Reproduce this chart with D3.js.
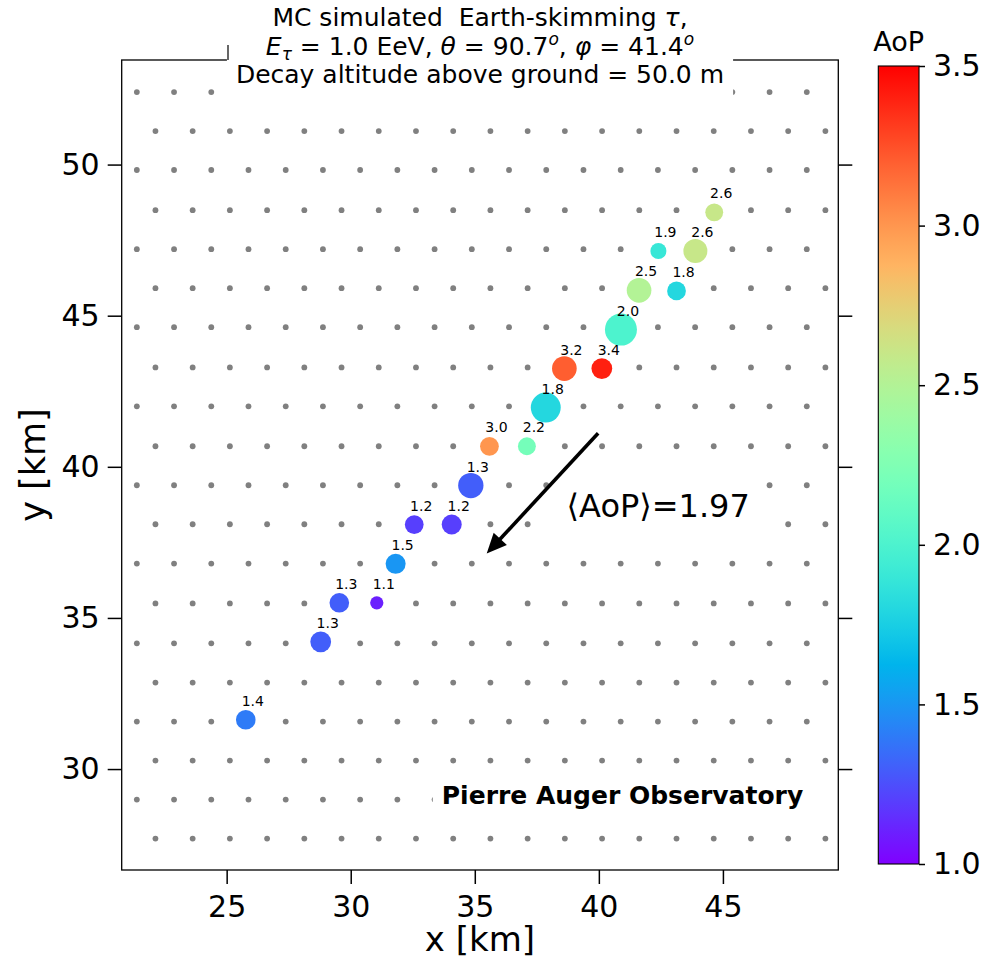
<!DOCTYPE html>
<html>
<head>
<meta charset="utf-8">
<script src="https://cdnjs.cloudflare.com/ajax/libs/d3/7.8.5/d3.min.js"></script>
<style>
  body { margin: 0; background: #fff; }
  svg { display: block; font-family: "DejaVu Sans", sans-serif; }
</style>
</head>
<body>
<div id="chart"></div>
<script>
// Surface detector grid (km), rows alternate between the two column sets
const rowY = [52.40, 51.11, 49.82, 48.49, 47.20, 45.91, 44.62, 43.29, 42.00, 40.68,
              39.39, 38.10, 36.80, 35.48, 34.16, 32.86, 31.57, 30.28, 28.99, 27.70];
const colEven = [21.38, 22.88, 24.38, 25.88, 27.38, 28.88, 30.38, 31.88, 33.38, 34.88,
                 36.38, 37.88, 39.38, 40.88, 42.38, 43.88, 45.38, 46.88, 48.38];
const colOdd = [22.13, 23.63, 25.13, 26.63, 28.13, 29.63, 31.13, 32.63, 34.13, 35.63,
                37.13, 38.63, 40.13, 41.63, 43.13, 44.63, 46.13, 47.63, 49.13];

// Triggered stations
const stX = [44.65, 42.40, 43.89, 41.62, 43.13, 40.89, 38.61, 40.12, 37.86, 35.59,
             37.10, 34.84, 32.56, 34.07, 31.81, 29.54, 31.05, 28.79, 25.77];
const stY = [48.42, 47.14, 47.14, 45.84, 45.82, 44.54, 43.25, 43.25, 41.96, 40.68,
             40.68, 39.38, 38.09, 38.09, 36.79, 35.50, 35.50, 34.21, 31.63];
const aop = [2.6, 1.9, 2.6, 2.5, 1.8, 2.0, 3.2, 3.4, 1.8, 3.0,
             2.2, 1.3, 1.2, 1.2, 1.5, 1.3, 1.1, 1.3, 1.4];
const signal = [20, 16, 36, 38, 22, 64, 38, 27, 56, 22,
                20, 40, 22, 25, 25, 24, 11, 27, 24];

// Ticks and annotations
const xTicks = [25, 30, 35, 40, 45];
const yTicks = [30, 35, 40, 45, 50];
const cbTicks = [1.0, 1.5, 2.0, 2.5, 3.0, 3.5];
const meanAoP = 1.97;
const arrowFrom = [39.97, 41.11];
const arrowTo = [35.48, 37.13];
const aopTextPos = [38.70, 38.34];
const auger = "Pierre Auger Observatory";
const augerPos = [33.67, 28.86];

// Plot parameters
const w = 988, h = 962;
const pL = 121.7, pR = 838.3, pT = 60, pB = 870;

// matplotlib "rainbow" colormap
function rainbow(t) {
	const c = v => Math.round(255 * Math.max(0, Math.min(1, v)));
	return d3.rgb(c(Math.abs(2 * t - 0.5)), c(Math.sin(Math.PI * t)), c(Math.cos(Math.PI * t / 2))).formatHex();
}

const xScale = d3.scaleLinear().domain([20.77, 49.65]).range([pL, pR]);
const yScale = d3.scaleLinear().domain([26.66, 53.46]).range([pB, pT]);
const tScale = d3.scaleLinear().domain([1.0, 3.5]).range([0, 1]).clamp(true);
const rScale = d3.scaleSqrt().domain([0, 64]).range([0, 16]);
const color = v => rainbow(tScale(v));

const svg = d3.select("#chart")
			  .append("svg")
			  .attr("width", w)
			  .attr("height", h);

svg.append("rect").attr("width", w).attr("height", h).attr("fill", "#fff");

const defs = svg.append("defs");
defs.append("clipPath")
	.attr("id", "plot-clip")
	.append("rect")
	.attr("x", pL).attr("y", pT)
	.attr("width", pR - pL).attr("height", pB - pT);

//Grid dots
const grid = [];
rowY.forEach((yv, i) => (i % 2 === 0 ? colEven : colOdd).forEach(xv => grid.push([xv, yv])));

const plot = svg.append("g").attr("clip-path", "url(#plot-clip)");

plot.selectAll("circle.tank")
	.data(grid)
	.enter()
	.append("circle")
	.attr("class", "tank")
	.attr("cx", d => xScale(d[0]))
	.attr("cy", d => yScale(d[1]))
	.attr("r", 2.9)
	.attr("fill", "#808080");

//Stations
const stations = stX.map((x, i) => ({x: x, y: stY[i], aop: aop[i], s: signal[i]}));

plot.selectAll("circle.station")
	.data(stations)
	.enter()
	.append("circle")
	.attr("class", "station")
	.attr("cx", d => xScale(d.x))
	.attr("cy", d => yScale(d.y))
	.attr("r", d => rScale(d.s))
	.attr("fill", d => color(d.aop));

plot.selectAll("text.lab")
	.data(stations)
	.enter()
	.append("text")
	.attr("class", "lab")
	.attr("x", d => xScale(d.x) + 7)
	.attr("y", d => yScale(d.y) - 14)
	.attr("text-anchor", "middle")
	.style("font-size", "14px")
	.text(d => d.aop.toFixed(1));

// text with a white box behind it
function whiteBox(g, pad) {
	let x0 = Infinity, y0 = Infinity, x1 = -Infinity, y1 = -Infinity;
	g.selectAll("text").each(function() {
		const b = this.getBBox();
		x0 = Math.min(x0, b.x); y0 = Math.min(y0, b.y);
		x1 = Math.max(x1, b.x + b.width); y1 = Math.max(y1, b.y + b.height);
	});
	g.insert("rect", "text")
	 .attr("x", x0 - pad).attr("y", y0 - pad)
	 .attr("width", x1 - x0 + 2 * pad).attr("height", y1 - y0 + 2 * pad)
	 .attr("fill", "#fff");
}

//Mean AoP
const gAop = plot.append("g");
gAop.append("text")
	.attr("x", xScale(aopTextPos[0]))
	.attr("y", yScale(aopTextPos[1]))
	.style("font-size", "32px")
	.text("\u27E8AoP\u27E9=" + meanAoP.toFixed(2));
whiteBox(gAop, 9);

//Observatory label
const gAug = plot.append("g");
gAug.append("text")
	.attr("x", xScale(augerPos[0]))
	.attr("y", yScale(augerPos[1]))
	.style("font-size", "25px")
	.style("font-weight", "bold")
	.text(auger);
whiteBox(gAug, 9);

//Arrow
const p0 = [xScale(arrowFrom[0]), yScale(arrowFrom[1])];
const p1 = [xScale(arrowTo[0]), yScale(arrowTo[1])];
const ang = Math.atan2(p1[1] - p0[1], p1[0] - p0[0]);
const ux = Math.cos(ang), uy = Math.sin(ang);
const headLen = 20, headW = 9;
svg.append("line")
   .attr("x1", p0[0]).attr("y1", p0[1])
   .attr("x2", p1[0] - ux * headLen * 0.7).attr("y2", p1[1] - uy * headLen * 0.7)
   .attr("stroke", "#000").attr("stroke-width", 3.6);
svg.append("path")
   .attr("d", "M" + p1[0] + "," + p1[1] +
			  "L" + (p1[0] - ux * headLen - uy * headW) + "," + (p1[1] - uy * headLen + ux * headW) +
			  "L" + (p1[0] - ux * headLen + uy * headW) + "," + (p1[1] - uy * headLen - ux * headW) + "Z")
   .attr("fill", "#000");

//Frame
svg.append("rect")
   .attr("x", pL).attr("y", pT)
   .attr("width", pR - pL).attr("height", pB - pT)
   .attr("fill", "none").attr("stroke", "#000").attr("stroke-width", 1.3);

//Axes
const x_axis = d3.axisBottom(xScale).tickValues(xTicks).tickSize(14).tickPadding(12);
const y_axis = d3.axisLeft(yScale).tickValues(yTicks).tickSize(14).tickPadding(8);
const y_axis_r = d3.axisRight(yScale).tickValues(yTicks).tickSize(14).tickFormat("");

function styleAxis(g, size) {
	g.select(".domain").remove();
	g.selectAll(".tick line").attr("stroke", "#000").attr("stroke-width", 1.5);
	g.selectAll(".tick text").attr("fill", "#000").style("font-size", size)
	 .style("font-family", "'DejaVu Sans', sans-serif");
}

svg.append("g").attr("transform", "translate(0," + pB + ")").call(x_axis).call(styleAxis, "30px");
svg.append("g").attr("transform", "translate(" + pL + ",0)").call(y_axis).call(styleAxis, "30px");
svg.append("g").attr("transform", "translate(" + pR + ",0)").call(y_axis_r).call(styleAxis, "30px");

//Axis labels
svg.append("text")
   .attr("x", (pL + pR) / 2)
   .attr("y", 951)
   .attr("text-anchor", "middle")
   .style("font-size", "34px")
   .text("x [km]");

svg.append("text")
   .attr("transform", "translate(45," + (pT + pB) / 2 + ") rotate(-90)")
   .attr("text-anchor", "middle")
   .style("font-size", "35px")
   .text("y [km]");

//Title with white box
const gTitle = svg.append("g");
const tx = (pL + pR) / 2;
const line1 = gTitle.append("text").attr("x", tx).attr("y", 26)
	.attr("text-anchor", "middle").attr("xml:space", "preserve")
	.style("font-size", "25px").style("white-space", "pre");
line1.append("tspan").text("MC simulated  Earth-skimming ");
line1.append("tspan").style("font-style", "italic").text("\u03C4");
line1.append("tspan").text(",");

const line2 = gTitle.append("text").attr("x", tx).attr("y", 54.5)
	.attr("text-anchor", "middle").attr("xml:space", "preserve")
	.style("font-size", "25px").style("white-space", "pre");
const parts = [
	{t: "E", it: true},
	{t: "\u03C4", it: true, dy: 5, fs: "17px"},
	{t: " = 1.0 EeV, ", dy: -5},
	{t: "\u03B8", it: true},
	{t: " = 90.7"},
	{t: "o", it: true, dy: -10, fs: "17px"},
	{t: ", ", dy: 10},
	{t: "\u03C6", it: true},
	{t: " = 41.4"},
	{t: "o", it: true, dy: -10, fs: "17px"}
];
parts.forEach(p => {
	const ts = line2.append("tspan").text(p.t);
	if (p.it) ts.style("font-style", "italic");
	if (p.dy) ts.attr("dy", p.dy);
	if (p.fs) ts.style("font-size", p.fs);
});

gTitle.append("text").attr("x", tx).attr("y", 83)
	.attr("text-anchor", "middle")
	.style("font-size", "25px")
	.text("Decay altitude above ground = 50.0 m");
whiteBox(gTitle, 9);

svg.append("line")
   .attr("x1", 228).attr("x2", 228).attr("y1", 45).attr("y2", pT)
   .attr("stroke", "#000").attr("stroke-width", 1.2);

//Colorbar
const cbX = 878.3, cbW = 40.7, cbTop = 66, cbBottom = 864;
const cbScale = d3.scaleLinear().domain([1.0, 3.5]).range([cbBottom, cbTop]);

const grad = defs.append("linearGradient")
	.attr("id", "cb-grad")
	.attr("x1", 0).attr("y1", 1).attr("x2", 0).attr("y2", 0);
grad.selectAll("stop")
	.data(d3.range(0, 1.0001, 1 / 64))
	.enter()
	.append("stop")
	.attr("offset", d => d)
	.attr("stop-color", d => rainbow(d));

svg.append("rect")
   .attr("x", cbX).attr("y", cbTop)
   .attr("width", cbW).attr("height", cbBottom - cbTop)
   .attr("fill", "url(#cb-grad)")
   .attr("stroke", "#000").attr("stroke-width", 1.1);

const cb_axis = d3.axisRight(cbScale).tickValues(cbTicks).tickSize(6).tickPadding(8).tickFormat(d3.format(".1f"));
svg.append("g").attr("transform", "translate(" + (cbX + cbW) + ",0)").call(cb_axis).call(styleAxis, "30px");

svg.append("text")
   .attr("x", cbX + cbW / 2)
   .attr("y", 51)
   .attr("text-anchor", "middle")
   .style("font-size", "27px")
   .text("AoP");
</script>
</body>
</html>
